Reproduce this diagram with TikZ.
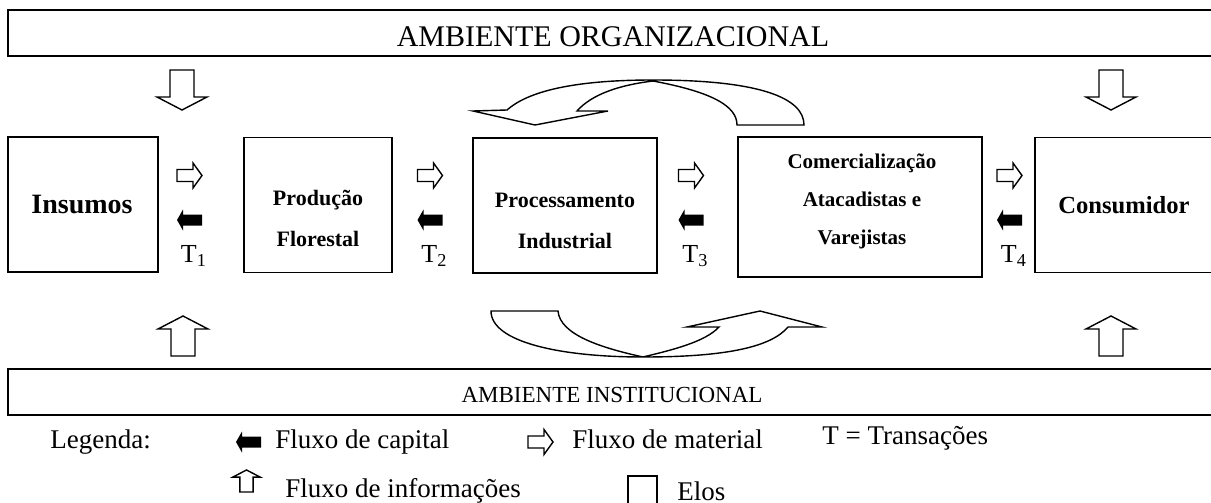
\documentclass[tikz,border=0pt]{standalone}
\usepackage{fontspec}
\setmainfont{Liberation Serif}
\usetikzlibrary{positioning}

\begin{document}
\begin{tikzpicture}[x=0.5pt, y=-0.5pt,
  elo/.style={draw, line width=0.8pt, inner sep=0pt},
  txt/.style={align=center, inner sep=0pt, font=\bfseries\fontsize{11}{20.5}\selectfont},
  amb/.style={draw, line width=1pt, minimum width=603pt, minimum height=23pt, inner sep=0pt},
  tlbl/.style={anchor=west, inner sep=0pt, font=\fontsize{13}{15}\selectfont},
  leg/.style={anchor=base west, inner sep=0pt, font=\fontsize{13.5}{16}\selectfont},
  flow/.style={draw, line width=0.7pt, fill=white, line join=miter},
  matflow/.pic={\draw[flow] (-12.5,-6) -- (3.5,-6) -- (3.5,-12.5) -- (12.5,0) -- (3.5,12.5) -- (3.5,6) -- (-12.5,6) -- cycle;},
  capflow/.pic={\fill (12.5,-5.5) -- (-6.5,-5.5) -- (-6.5,-10.5) -- (-12.5,0) -- (-6.5,10.5) -- (-6.5,5.5) -- (12.5,5.5) -- cycle;},
  infodown/.pic={\draw[flow] (-12,0) -- (12,0) -- (12,27) -- (25,27) -- (0,40) -- (-25,27) -- (-12,27) -- cycle;},
  infoup/.pic={\draw[flow] (0,0) -- (25,13) -- (12,13) -- (12,40) -- (-12,40) -- (-12,13) -- (-25,13) -- cycle;}]
\useasboundingbox (0,0) rectangle (1211,503);

% ambientes
\node[amb] (orgamb) at (610.5,33) {};
\node[font=\fontsize{15}{17}\selectfont] (orglbl) at (613,37) {AMBIENTE ORGANIZACIONAL};
\node[amb] (instamb) at (610.5,392) {};
\node[font=\fontsize{11.5}{14}\selectfont] (instlbl) at (612,395) {AMBIENTE INSTITUCIONAL};

% elos
\node[elo, minimum width=75pt, minimum height=67.5pt] (ins) at (83,204.5) {};
\node[elo, minimum width=74pt, minimum height=67.5pt] (prod) at (318,205) {};
\node[elo, minimum width=92pt, minimum height=67.5pt] (proc) at (565,205.5) {};
\node[elo, minimum width=122pt, minimum height=70pt] (com) at (860,207) {};
\node[elo, minimum width=90pt, minimum height=67.5pt] (cons) at (1125,205) {};
\node[txt, font=\bfseries\fontsize{14}{16}\selectfont] (instxt) at (82,205) {Insumos};
\node[txt] (prodtxt) at (318,218) {Produção\\Florestal};
\node[txt] (proctxt) at (565,221) {Processamento\\Industrial};
\node[txt, font=\bfseries\fontsize{10.5}{19}\selectfont] (comtxt) at (862,201) {Comercialização\\Atacadistas e\\Varejistas};
\node[txt, font=\bfseries\fontsize{12.3}{14}\selectfont] (constxt) at (1124,205) {Consumidor};

% transacoes
\foreach \cx [count=\i] in {189.5,430,691,1009.5} {
  \pic at (\cx,175.5) {matflow};
  \pic at (\cx,220) {capflow};
  \node[tlbl] (t\i) at (\cx-9,256) {T\textsubscript{\i}};
}

% fluxo de informacoes
\pic at (182,70) {infodown};
\pic at (1111,70) {infodown};
\pic at (183,316) {infoup};
\pic at (1111,316) {infoup};

% retorno superior e inferior
\draw[flow] (804,125) .. controls (804,98) and (760,80) .. (653,80)
  .. controls (565,80) and (525,94) .. (507,110) -- (473,111) -- (535,125) -- (608,111) -- (577,111)
  .. controls (592,94) and (620,85) .. (653,81) .. controls (712,92) and (737,106) .. (737,125) -- cycle;
\draw[flow] (491,311) .. controls (491,342) and (560,357) .. (643,357)
  .. controls (730,357) and (772,346) .. (788,327) -- (822,327) -- (760,311) -- (687,327) -- (719,327)
  .. controls (705,342) and (672,350) .. (643,357) .. controls (602,348) and (560,335) .. (558,311) -- cycle;

% legenda
\node[leg] (legenda) at (50,448) {Legenda:};
\pic at (248.5,442) {capflow};
\node[leg] (capleg) at (275,448) {Fluxo de capital};
\pic at (540.5,442) {matflow};
\node[leg] (matleg) at (572,448) {Fluxo de material};
\node[leg] (tleg) at (822,444) {T = Transações};
\pic[scale=0.55] at (246.5,470) {infoup};
\node[leg] (infleg) at (285,497) {Fluxo de informações};
\node[draw, line width=0.7pt, minimum size=14.5pt, inner sep=0pt] (eloleg) at (642.5,490.5) {};
\node[leg] (eloslbl) at (677,500) {Elos};
\end{tikzpicture}
\end{document}
